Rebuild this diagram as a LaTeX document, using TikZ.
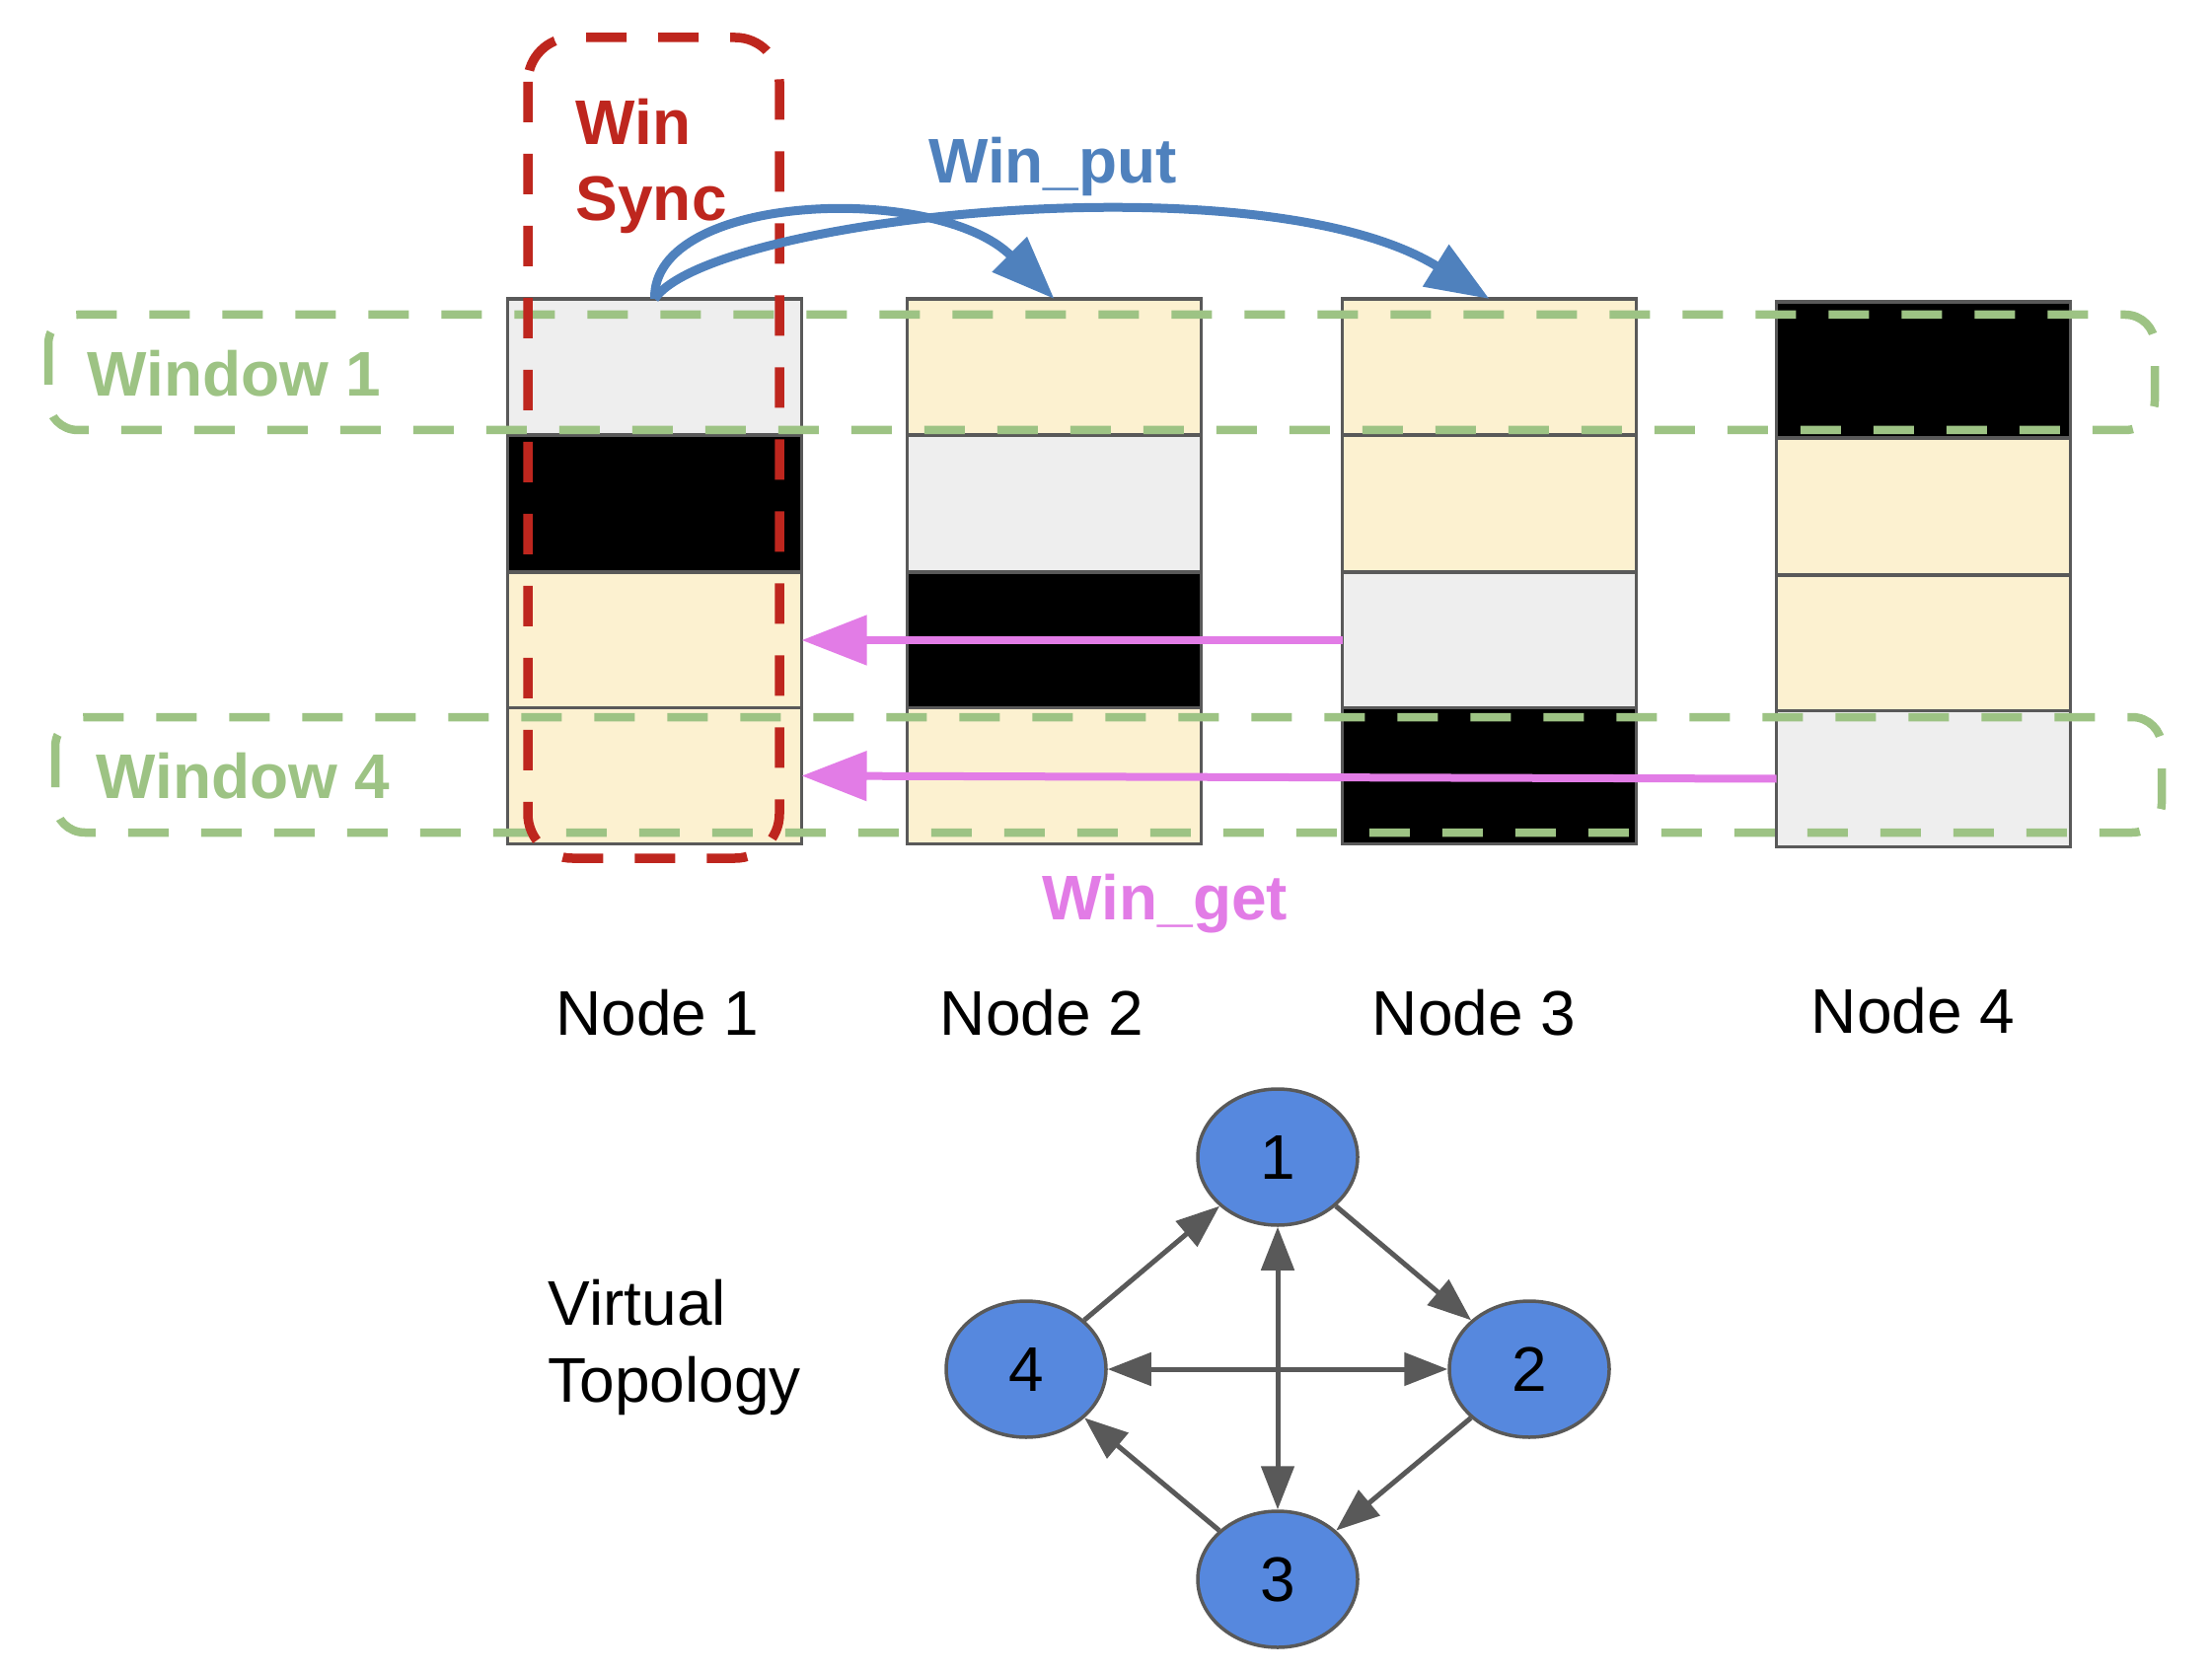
\documentclass[tikz,border=0pt]{standalone}
\usepackage{fontspec}
\setmainfont{Liberation Sans}
\usetikzlibrary{arrows.meta,shapes.geometric}
\definecolor{cellgray}{HTML}{EEEEEE}
\definecolor{cellyel}{HTML}{FCF1D0}
\definecolor{edgegray}{HTML}{595959}
\definecolor{wingreen}{HTML}{9DC384}
\definecolor{syncred}{HTML}{BE261E}
\definecolor{putblue}{HTML}{4F81BD}
\definecolor{getpink}{HTML}{E27CE6}
\definecolor{topoblue}{HTML}{5688DE}
\tikzset{
  puttip/.tip={Triangle[length=6.4mm,width=4.8mm]},
  gettip/.tip={Triangle[length=6.6mm,width=4.9mm]},
  topotip/.tip={Triangle[length=4.4mm,width=3.3mm]},
}
\begin{document}
\begin{tikzpicture}[x=0.1mm,y=-0.1mm,
  cell/.style={draw=edgegray, line width=0.38mm, minimum width=29.8mm, minimum height=13.8mm, inner sep=0pt, outer sep=0pt},
  gy/.style={cell, fill=cellgray},
  yl/.style={cell, fill=cellyel},
  bk/.style={cell, fill=black},
  lbl/.style={font=\fontsize{18.2pt}{21.9pt}\selectfont, inner sep=0pt},
  lblb/.style={font=\fontsize{18.2pt}{21.9pt}\selectfont\bfseries, inner sep=0pt},
  winbox/.style={draw=wingreen, line width=0.85mm, dash pattern=on 4.1mm off 3.3mm, rounded corners=3mm},
  syncbox/.style={draw=syncred, line width=0.95mm, dash pattern=on 4.1mm off 3.2mm, rounded corners=4.5mm},
  putarrow/.style={draw=putblue, line width=0.9mm, -puttip},
  getarrow/.style={draw=getpink, line width=0.8mm, -gettip},
  topo/.style={ellipse, draw=edgegray, line width=0.35mm, fill=topoblue, minimum width=16.2mm, minimum height=13.8mm, inner sep=0pt, font=\fontsize{18.2pt}{21.9pt}\selectfont},
  topoedge/.style={draw=edgegray, line width=0.5mm},
]
\useasboundingbox (0,0) rectangle (2242,1694);

% columns
\node[gy] (c11) at (663.5,372) {};
\node[bk] (c12) at (663.5,510.5) {};
\node[yl] (c13) at (663.5,649) {};
\node[yl] (c14) at (663.5,786.5) {};

\node[yl] (c21) at (1068.5,372) {};
\node[gy] (c22) at (1068.5,510.5) {};
\node[bk] (c23) at (1068.5,649) {};
\node[yl] (c24) at (1068.5,786.5) {};

\node[yl] (c31) at (1509.5,372) {};
\node[yl] (c32) at (1509.5,510.5) {};
\node[gy] (c33) at (1509.5,649) {};
\node[bk] (c34) at (1509.5,786.5) {};

\node[bk] (c41) at (1949.5,375) {};
\node[yl] (c42) at (1949.5,513.5) {};
\node[yl] (c43) at (1949.5,652) {};
\node[gy] (c44) at (1949.5,789.5) {};

% windows
\draw[winbox] (49,319) rectangle (2184,436);
\draw[winbox] (56,727) rectangle (2191,844);
\node[lblb, text=wingreen, anchor=base] (w1) at (237.5,402) {Window 1};
\node[lblb, text=wingreen, anchor=base] (w4) at (246.5,809) {Window 4};

% sync box
\draw[syncbox] (535,38) rectangle (790,870);
\node[lblb, text=syncred, align=left, anchor=north west] (sync) at (583,99) {Win\\Sync};

% get arrows
\draw[getarrow] (c33.west) -- (c13.east);
\draw[getarrow] (c44.west) -- (c14.east);
\node[lblb, text=getpink, anchor=base] (get) at (1181,932) {Win\_get};

% put arrows
\draw[putarrow] (c11.north) .. controls (661,195) and (950,185) .. (c21.north);
\draw[putarrow] (c11.north) .. controls (720,220) and (1280,160) .. (c31.north);
\node[lblb, text=putblue, anchor=base] (put) at (1067,186) {Win\_put};

% node labels
\node[lbl, anchor=base] (l1) at (666.5,1049) {Node 1};
\node[lbl, anchor=base] (l2) at (1056,1049) {Node 2};
\node[lbl, anchor=base] (l3) at (1494,1049) {Node 3};
\node[lbl, anchor=base] (l4) at (1939,1047) {Node 4};

% topology
\node[lbl, align=left, anchor=north west, font=\fontsize{18.2pt}{22.2pt}\selectfont] (vt) at (555,1296) {Virtual\\Topology};
\node[topo] (t1) at (1295,1173) {1};
\node[topo] (t2) at (1550,1388) {2};
\node[topo] (t3) at (1295,1601) {3};
\node[topo] (t4) at (1040,1388) {4};
\draw[topoedge, -topotip] (t4) -- (t1);
\draw[topoedge, -topotip] (t1) -- (t2);
\draw[topoedge, -topotip] (t2) -- (t3);
\draw[topoedge, -topotip] (t3) -- (t4);
\draw[topoedge, topotip-topotip] (t1) -- (t3);
\draw[topoedge, topotip-topotip] (t4) -- (t2);
\end{tikzpicture}
\end{document}
